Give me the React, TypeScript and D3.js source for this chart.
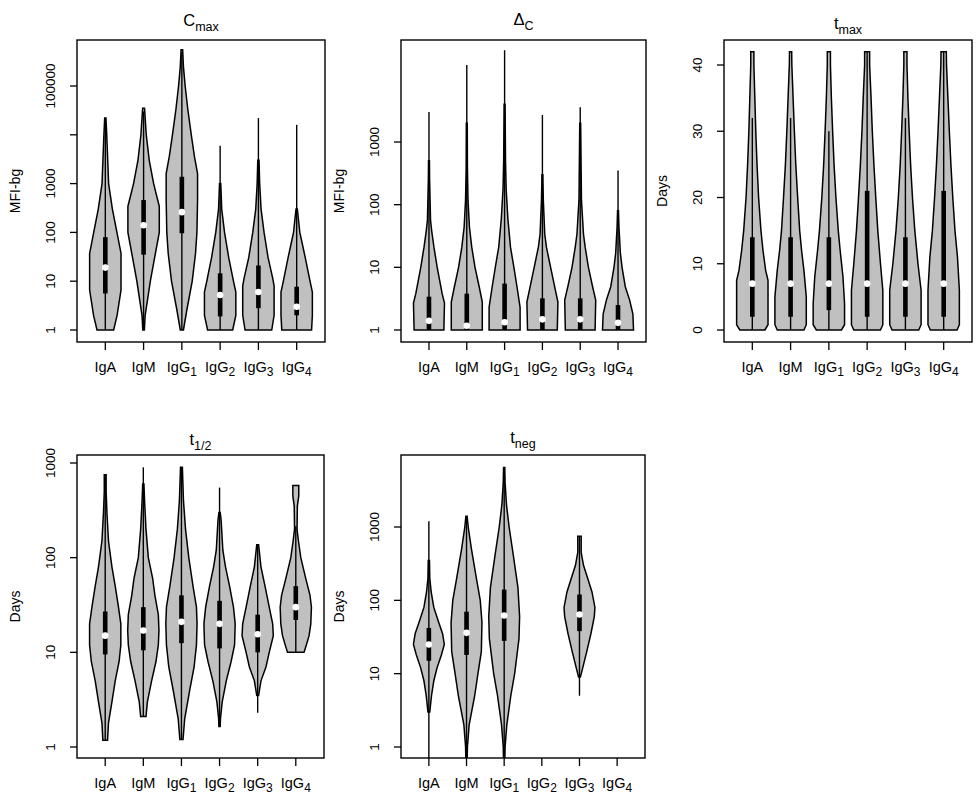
import React, { useRef, useEffect } from 'react'
import * as d3 from 'd3'

type Profile = [number, number][] | null // [value, relative half width]
type Stats = [number, number, number, number, number] | null // lo, q1, median, q3, hi

const groupBase = ['IgA', 'IgM', 'IgG', 'IgG', 'IgG', 'IgG']
const groupSub = ['', '', '1', '2', '3', '4']

// Cmax
const cmaxTicks = [1, 10, 100, 1000, 10000, 100000]
const cmaxTickLabels = ['1', '10', '100', '1000', '', '100000']
const cmaxProfiles: Profile[] = [
  [[1, 0.53], [2, 0.75], [6.6, 1], [37, 1], [100, 0.74], [300, 0.45], [1000, 0.21], [10000, 0.09], [22000, 0.04]],
  [[1, 0.05], [2, 0.1], [10, 0.43], [30, 0.7], [100, 1], [340, 1], [1000, 0.64], [3000, 0.36], [10000, 0.17], [35000, 0.06]],
  [[1, 0.1], [2.6, 0.32], [10, 0.66], [37, 0.87], [100, 0.96], [460, 1], [1600, 1], [3600, 0.8], [10000, 0.6], [33000, 0.38], [100000, 0.21], [250000, 0.1], [550000, 0.05]],
  [[1, 0.8], [2, 1], [6, 1], [10, 0.85], [30, 0.55], [100, 0.28], [300, 0.1], [1000, 0.04]],
  [[1, 0.85], [2, 1], [8, 1], [12, 0.9], [30, 0.62], [100, 0.36], [300, 0.17], [1000, 0.08], [3000, 0.04]],
  [[1, 0.95], [2, 1], [6, 1], [10, 0.85], [30, 0.55], [60, 0.35], [100, 0.2], [250, 0.07], [300, 0.04]],
]
const cmaxStats: Stats[] = [
  [1, 5.6, 19, 80, 22000],
  [1, 35, 140, 460, 30000],
  [1, 96, 260, 1380, 500000],
  [1, 1.9, 5.2, 14.5, 6000],
  [1, 2.8, 6, 21, 22000],
  [1, 2, 3, 7.7, 16000],
]

// Delta C
const deltaTicks = [1, 10, 100, 1000]
const deltaTickLabels = ['1', '10', '100', '1000']
const deltaProfiles: Profile[] = [
  [[1, 0.96], [2.7, 1], [3.8, 0.85], [10, 0.53], [21, 0.32], [39, 0.17], [57, 0.1], [250, 0.04], [500, 0.03]],
  [[1, 1], [2.8, 1], [4.9, 0.8], [10, 0.53], [21, 0.32], [44, 0.17], [118, 0.08], [400, 0.04], [2000, 0.03]],
  [[1, 1], [2.3, 1], [4.9, 0.8], [10, 0.6], [21, 0.38], [60, 0.21], [180, 0.1], [500, 0.06], [4000, 0.03]],
  [[1, 0.96], [2.8, 1], [5.5, 0.75], [10, 0.53], [21, 0.26], [34, 0.15], [118, 0.06], [300, 0.03]],
  [[1, 0.96], [3, 1], [4.9, 0.8], [10, 0.53], [21, 0.32], [34, 0.21], [118, 0.08], [2000, 0.03]],
  [[1, 1], [1.8, 0.96], [3, 0.75], [4.9, 0.47], [10, 0.26], [17, 0.15], [44, 0.06], [80, 0.03]],
]
const deltaStats: Stats[] = [
  [1, 1, 1.4, 3.4, 3000],
  [1, 1, 1.17, 3.8, 17000],
  [1, 1, 1.33, 5.5, 29000],
  [1, 1, 1.48, 3.2, 2700],
  [1, 1, 1.48, 3.2, 3600],
  [1, 1, 1.3, 2.5, 350],
]

// t max
const tmaxTicks = [0, 10, 20, 30, 40]
const tmaxTickLabels = ['0', '10', '20', '30', '40']
const tmaxProfiles: Profile[] = [
  [[0, 0.8], [0.8, 1], [7.5, 1], [9, 0.85], [12, 0.68], [15, 0.55], [20, 0.4], [25, 0.3], [30, 0.22], [35, 0.16], [40, 0.1], [42, 0.1]],
  [[0, 0.85], [0.8, 1], [5, 1], [9, 0.85], [12, 0.7], [15, 0.58], [20, 0.45], [25, 0.33], [30, 0.24], [35, 0.16], [40, 0.08], [42, 0.07]],
  [[0, 0.8], [0.8, 1], [4, 1], [8, 0.9], [12, 0.72], [15, 0.6], [20, 0.45], [25, 0.33], [30, 0.24], [35, 0.16], [40, 0.1], [42, 0.1]],
  [[0, 0.85], [0.8, 1], [6, 1], [10, 0.85], [15, 0.68], [20, 0.55], [25, 0.43], [30, 0.33], [35, 0.25], [40, 0.16], [42, 0.16]],
  [[0, 0.85], [0.8, 1], [6, 1], [10, 0.8], [15, 0.6], [20, 0.45], [25, 0.33], [30, 0.24], [35, 0.16], [40, 0.1], [42, 0.1]],
  [[0, 0.85], [0.8, 1], [6, 1], [11, 0.88], [15, 0.72], [20, 0.58], [25, 0.46], [30, 0.36], [35, 0.27], [40, 0.18], [42, 0.17]],
]
const tmaxStats: Stats[] = [
  [0, 2, 7, 14, 32],
  [0, 2, 7, 14, 32],
  [0, 3, 7, 14, 30],
  [0, 2, 7, 21, 42],
  [0, 2, 7, 14, 32],
  [0, 2, 7, 21, 42],
]

// t 1/2
const thalfTicks = [1, 10, 100, 1000]
const thalfTickLabels = ['1', '10', '100', '1000']
const thalfProfiles: Profile[] = [
  [[1.18, 0.15], [1.8, 0.21], [3, 0.43], [5, 0.64], [8, 0.89], [12, 1], [20, 1], [30, 0.85], [50, 0.64], [80, 0.43], [150, 0.21], [300, 0.11], [500, 0.06], [750, 0.06]],
  [[2.1, 0.17], [3, 0.26], [5, 0.53], [8, 0.81], [12, 0.96], [17, 1], [25, 0.96], [40, 0.74], [60, 0.6], [100, 0.32], [200, 0.17], [400, 0.08], [600, 0.04]],
  [[1.2, 0.1], [2, 0.21], [4, 0.53], [7, 0.81], [12, 0.96], [20, 1], [30, 0.96], [50, 0.74], [100, 0.47], [200, 0.26], [400, 0.13], [900, 0.06]],
  [[1.65, 0.04], [2, 0.06], [3, 0.17], [5, 0.43], [8, 0.74], [12, 0.96], [20, 1], [30, 0.89], [50, 0.64], [80, 0.38], [120, 0.21], [250, 0.1], [300, 0.04]],
  [[3.5, 0.06], [5, 0.21], [7, 0.53], [10, 0.74], [15, 1], [20, 0.96], [30, 0.74], [50, 0.47], [80, 0.21], [137, 0.06]],
  [[10, 0.53], [12, 0.68], [15, 0.85], [20, 0.96], [30, 1], [40, 0.91], [60, 0.64], [100, 0.32], [150, 0.17], [200, 0.08], [350, 0.1], [450, 0.19], [580, 0.19]],
]
const thalfStats: Stats[] = [
  [1.18, 9.5, 15, 27, 750],
  [2.1, 10.5, 17, 30, 900],
  [1.2, 12.5, 21, 40, 900],
  [1.65, 11, 20, 35, 550],
  [2.3, 10, 15.5, 25, 137],
  [10, 22, 30, 50, 215],
]

// t neg
const tnegTicks = [1, 10, 100, 1000]
const tnegTickLabels = ['1', '10', '100', '1000']
const tnegProfiles: Profile[] = [
  [[3, 0.06], [5, 0.17], [8, 0.32], [12, 0.53], [18, 0.81], [25, 1], [35, 0.89], [50, 0.64], [80, 0.32], [130, 0.15], [200, 0.06], [350, 0.04]],
  [[0.6, 0.04], [1, 0.06], [2, 0.17], [5, 0.53], [10, 0.74], [20, 0.96], [50, 1], [100, 0.89], [200, 0.64], [500, 0.32], [1000, 0.11], [1400, 0.04]],
  [[0.6, 0.04], [1, 0.06], [2, 0.17], [5, 0.43], [10, 0.68], [30, 0.96], [60, 1], [150, 0.89], [400, 0.6], [1000, 0.32], [2000, 0.15], [4000, 0.06], [6500, 0.04]],
  null,
  [[9, 0.06], [12, 0.21], [20, 0.47], [35, 0.74], [60, 0.96], [80, 1], [130, 0.81], [200, 0.53], [300, 0.26], [450, 0.11], [750, 0.11]],
  null,
]
const tnegStats: Stats[] = [
  [0.5, 15, 25, 42, 1200],
  [0.5, 18, 36, 70, 1400],
  [0.5, 28, 62, 140, 6500],
  null,
  [5, 38, 64, 120, 750],
  null,
]

const panels = [
  { id: 'cmax', title: 'C', sub: 'max', titleY: 26, ylab: 'MFI-bg', left: 77, right: 325, top: 40, bottom: 342,
    log: true, domain: [1, 1e5], range: [330, 86], ticks: cmaxTicks, labels: cmaxTickLabels, profiles: cmaxProfiles, stats: cmaxStats },
  { id: 'delta', title: '\u0394', sub: 'C', titleY: 25, ylab: 'MFI-bg', left: 401, right: 646, top: 40, bottom: 342,
    log: true, domain: [1, 1000], range: [330, 142], ticks: deltaTicks, labels: deltaTickLabels, profiles: deltaProfiles, stats: deltaStats },
  { id: 'tmax', title: 't', sub: 'max', titleY: 29, ylab: 'Days', left: 724, right: 972, top: 40, bottom: 342,
    log: false, domain: [0, 40], range: [330, 65], ticks: tmaxTicks, labels: tmaxTickLabels, profiles: tmaxProfiles, stats: tmaxStats },
  { id: 'thalf', title: 't', sub: '1/2', titleY: 445, ylab: 'Days', left: 77, right: 324, top: 455, bottom: 758,
    log: true, domain: [1, 1000], range: [747, 463], ticks: thalfTicks, labels: thalfTickLabels, profiles: thalfProfiles, stats: thalfStats },
  { id: 'tneg', title: 't', sub: 'neg', titleY: 443, ylab: 'Days', left: 401, right: 645, top: 455, bottom: 758,
    log: true, domain: [1, 1000], range: [747, 527], ticks: tnegTicks, labels: tnegTickLabels, profiles: tnegProfiles, stats: tnegStats },
]

const FONT = '"Liberation Sans", Arial, Helvetica, sans-serif'
const VIOLIN_FILL = '#c0c0c0'

const App: React.FC = () => {
  const svgRef = useRef<SVGSVGElement>(null)

  useEffect(() => {
    if (!svgRef.current) return
    const svg = d3.select(svgRef.current)
    svg.selectAll('*').remove()
    svg.append('rect').attr('width', 976).attr('height', 797).attr('fill', '#fff')

    panels.forEach(p => {
      const g = svg.append('g').style('font-family', FONT)
      const n = groupBase.length
      // R extends xlim c(0.5, n + 0.5) by 4% on each side
      const ext = 0.04 * n
      const x = d3.scaleLinear().domain([0.5 - ext, n + 0.5 + ext]).range([p.left, p.right])
      const y = p.log
        ? d3.scaleLog().domain(p.domain).range(p.range)
        : d3.scaleLinear().domain(p.domain).range(p.range)
      const hw = (x(2) - x(1)) * 0.41

      g.append('clipPath')
        .attr('id', `clip-${p.id}`)
        .append('rect')
        .attr('x', p.left)
        .attr('y', p.top)
        .attr('width', p.right - p.left)
        .attr('height', p.bottom - p.top)

      const plot = g.append('g').attr('clip-path', `url(#clip-${p.id})`)

      p.profiles.forEach((prof, i) => {
        const st = p.stats[i]
        if (!prof || !st) return
        const cx = x(i + 1)
        const area = d3
          .area<[number, number]>()
          .y(d => y(d[0]))
          .x0(d => cx - d[1] * hw)
          .x1(d => cx + d[1] * hw)
        plot
          .append('path')
          .attr('d', area(prof) || '')
          .attr('fill', VIOLIN_FILL)
          .attr('stroke', '#000')
          .attr('stroke-width', 1.5)
          .attr('stroke-linejoin', 'miter')

        // whisker
        plot
          .append('line')
          .attr('x1', cx)
          .attr('x2', cx)
          .attr('y1', y(st[0]))
          .attr('y2', y(st[4]))
          .attr('stroke', '#000')
          .attr('stroke-width', 1.4)
        // box
        plot
          .append('rect')
          .attr('x', cx - 2.3)
          .attr('width', 4.6)
          .attr('y', y(st[3]))
          .attr('height', Math.max(0, y(st[1]) - y(st[3])))
          .attr('fill', '#000')
        // median
        plot
          .append('circle')
          .attr('cx', cx)
          .attr('cy', y(st[2]))
          .attr('r', 3.3)
          .attr('fill', '#fff')
      })

      // frame
      g.append('rect')
        .attr('x', p.left)
        .attr('y', p.top)
        .attr('width', p.right - p.left)
        .attr('height', p.bottom - p.top)
        .attr('fill', 'none')
        .attr('stroke', '#000')
        .attr('stroke-width', 1.4)

      // y axis
      p.ticks.forEach((t, i) => {
        const ty = y(t)
        g.append('line')
          .attr('x1', p.left)
          .attr('x2', p.left - 7)
          .attr('y1', ty)
          .attr('y2', ty)
          .attr('stroke', '#000')
          .attr('stroke-width', 1.3)
        if (p.labels[i]) {
          g.append('text')
            .attr('transform', `translate(${p.left - 22},${ty}) rotate(-90)`)
            .attr('text-anchor', 'middle')
            .style('font-size', '13.5px')
            .style('fill', '#000')
            .text(p.labels[i])
        }
      })

      // x axis
      groupBase.forEach((b, i) => {
        const tx = x(i + 1)
        g.append('line')
          .attr('x1', tx)
          .attr('x2', tx)
          .attr('y1', p.bottom)
          .attr('y2', p.bottom + 8)
          .attr('stroke', '#000')
          .attr('stroke-width', 1.3)
        const t = g
          .append('text')
          .attr('x', tx)
          .attr('y', p.bottom + 30)
          .attr('text-anchor', 'middle')
          .style('font-size', '14.5px')
          .style('fill', '#000')
        t.append('tspan').text(b)
        if (groupSub[i]) {
          t.append('tspan').attr('dy', 3.5).style('font-size', '12px').text(groupSub[i])
        }
      })

      // y label
      g.append('text')
        .attr('transform', `translate(${p.left - 57},${(p.top + p.bottom) / 2}) rotate(-90)`)
        .attr('text-anchor', 'middle')
        .style('font-size', '14px')
        .style('fill', '#000')
        .text(p.ylab)

      // title
      const title = g
        .append('text')
        .attr('x', (p.left + p.right) / 2)
        .attr('y', p.titleY)
        .attr('text-anchor', 'middle')
        .style('font-size', '16.5px')
        .style('fill', '#000')
      title.append('tspan').text(p.title)
      title.append('tspan').attr('dy', 5).style('font-size', '12.5px').text(p.sub)
    })
  }, [])

  return (
    <svg
      ref={svgRef}
      width={976}
      height={797}
      style={{ position: 'absolute', left: 0, top: 0, display: 'block' }}
    />
  )
}

export default App
